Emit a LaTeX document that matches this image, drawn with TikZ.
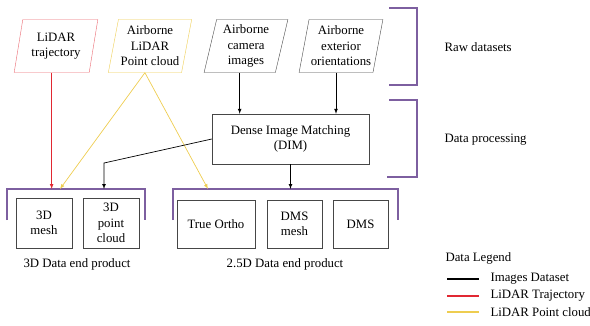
\documentclass[tikz,border=0pt]{standalone}
\usepackage{fontspec}
\setmainfont{Liberation Serif}
\usetikzlibrary{arrows,shapes.geometric,positioning,calc}

\definecolor{lidred}{RGB}{225,40,50}
\definecolor{lidyel}{RGB}{238,205,80}
\definecolor{brpur}{RGB}{125,95,160}
\definecolor{boxgray}{RGB}{70,70,70}

\tikzset{
  every node/.style={font=\fontsize{12.8}{15.5}\selectfont},
  rawdata/.style={trapezium, trapezium left angle=77, trapezium right angle=103,
    trapezium stretches=true, draw=boxgray, minimum width=84pt, minimum height=53pt,
    align=center, inner sep=1pt},
  prodbox/.style={rectangle, draw=boxgray, minimum height=50pt, align=center, inner sep=0pt},
  bracket/.style={brpur, line width=1.3pt},
  flow/.style={->, >=latex, line width=0.7pt}
}

\begin{document}
\begin{tikzpicture}[x=1pt,y=-1pt]
\useasboundingbox (0,0) rectangle (590,325);

% raw datasets
\node[rawdata, draw=lidred!70] (traj) at (56,46) {LiDAR\\trajectory};
\node[rawdata, draw=lidyel] (pcl) at (150,46) {Airborne\\LiDAR\\Point cloud};
\node[rawdata] (cam) at (246,46) {Airborne\\camera\\images};
\node[rawdata] (ext) at (341,46) {Airborne\\exterior\\orientations};

% processing
\node[prodbox, minimum width=157pt] (dim) at (290.5,139) {Dense Image Matching\\(DIM)};

% end products
\node[prodbox, minimum width=56pt] (mesh) at (44,223) {3D\\mesh};
\node[prodbox, minimum width=56pt] (ptc) at (111,223) {3D\\point\\cloud};
\node[prodbox, minimum width=78pt, minimum height=48pt] (ortho) at (216,224) {True Ortho};
\node[prodbox, minimum width=55pt, minimum height=48pt] (dmsm) at (294.5,224) {DMS\\mesh};
\node[prodbox, minimum width=55pt, minimum height=48pt] (dms) at (360.5,224) {DMS};

\node (lab3d) at (77,264) {3D Data end product};
\node (lab25d) at (285,264) {2.5D Data end product};

% brackets
\draw[bracket] (389,8) -- (417,8) -- (417,85) -- (389,85);
\draw[bracket] (389,100) -- (417,100) -- (417,177) -- (387,177);
\draw[bracket] (7,220) -- (7,189) -- (145,189) -- (145,220);
\draw[bracket] (173,220) -- (173,189) -- (398,189) -- (398,220);
\node[anchor=west] (rawlab) at (441,47) {Raw datasets};
\node[anchor=west] (proclab) at (441,140) {Data processing};

% arrow targets on the brackets
\coordinate (b3d) at (7,189);
\coordinate (ymesh) at (60,189);
\coordinate (yortho) at (208,189);
\coordinate (knee) at (104,163);

% flows
\draw[flow, lidred] (traj.bottom side) -- (traj.bottom side |- b3d);
\draw[flow, lidyel] (pcl.bottom side) -- (ymesh);
\draw[flow, lidyel] (pcl.bottom side) -- (yortho);
\draw[flow] (cam.bottom side) -- (cam.bottom side |- dim.north);
\draw[flow] (ext.bottom side) -- (ext.bottom side |- dim.north);
\draw[flow] (dim.west) -- (knee) -- (knee |- b3d);
\draw[flow] (dim.south) -- (dim.south |- b3d);

% legend
\node[anchor=west] (leg) at (442,258) {Data Legend};
\node[anchor=west] (legimg) at (487,279) {Images Dataset};
\node[anchor=west] (legtraj) at (487,296) {LiDAR Trajectory};
\node[anchor=west] (legpc) at (487,312) {LiDAR Point cloud};
\draw[line width=1.1pt] ([xshift=-40pt]legimg.west) -- ([xshift=-8pt]legimg.west);
\draw[line width=1.1pt, lidred] ([xshift=-40pt]legtraj.west) -- ([xshift=-8pt]legtraj.west);
\draw[line width=1.1pt, lidyel] ([xshift=-40pt]legpc.west) -- ([xshift=-8pt]legpc.west);
\end{tikzpicture}
\end{document}
